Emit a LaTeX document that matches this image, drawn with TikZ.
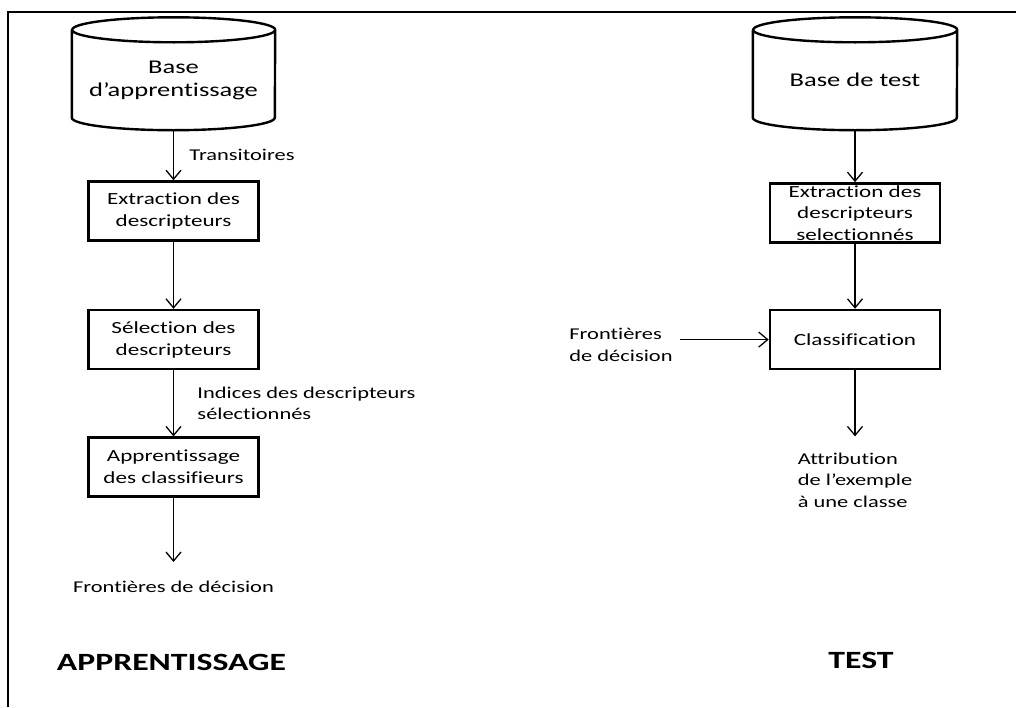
\documentclass[tikz,border=0pt]{standalone}
\usepackage{fontspec}
\setmainfont{Carlito}[FakeStretch=1.36, Ligatures=NoCommon]
\usepackage{tikz}
\usetikzlibrary{positioning, arrows.meta}

\tikzset{
    process/.style={rectangle, draw, line width=2.6pt, minimum width=170pt, minimum height=59pt, align=center, font=\fontsize{17}{22}\selectfont},
    database/.style={rectangle, minimum width=#1, minimum height=100pt, align=center, font=\fontsize{19.5}{23}\selectfont},
    note/.style={align=left, font=\fontsize{16.5}{21.5}\selectfont},
    phase/.style={font=\fontsize{24.8}{28}\selectfont\bfseries},
    arr/.style={-{Straight Barb[length=9pt, width=15pt]}, line width=1.3pt}
}

% cylinder outline round a database node: name, half width
\newcommand{\drawbase}[2]{%
    \draw[line width=2.4pt] (#1.north west) -- ([yshift=12.5pt]#1.south west)
        arc[start angle=180, end angle=360, x radius=#2, y radius=12.5pt]
        -- (#1.north east)
        arc[start angle=0, end angle=360, x radius=#2, y radius=12.5pt];}

\begin{document}
\begin{tikzpicture}[x=1pt, y=1pt]
    \useasboundingbox (0,0) rectangle (1016,-707);
    % frame
    \draw[line width=1.5pt] (8,-707) -- (8,-12) -- (1016,-12);

    % Apprentissage column
    \node[database=203pt] (baseA) at (173.5,-80) {Base\\d’apprentissage};
    \drawbase{baseA}{101.5pt}
    \node[process, below=50pt of baseA] (extrA) {Extraction des\\descripteurs};
    \node[process, below=67pt of extrA] (selA) {Sélection des\\descripteurs};
    \node[process, below=66pt of selA] (apprA) {Apprentissage\\des classifieurs};
    \coordinate[below=64pt of apprA] (tipA);
    \node[note, below=15pt of tipA] (frontA) {Frontières de décision};

    \draw[arr] (baseA) -- node[note, right=12pt] {Transitoires} (extrA);
    \draw[arr] (extrA) -- (selA);
    \draw[arr] (selA) -- node[note, right=20pt] {Indices des descripteurs\\sélectionnés} (apprA);
    \draw[arr] (apprA) -- (tipA);

    % Test column
    \node[database=204pt] (baseT) at (855,-80) {Base de test};
    \drawbase{baseT}{102pt}
    \node[process, below=52pt of baseT,
        label={[align=center, font=\fontsize{17}{21.5}\selectfont]center:Extraction des\\descripteurs\\selectionnés}] (extrT) {};
    \node[process, below=65pt of extrT] (classT) {Classification};
    \coordinate[below=66pt of classT] (tipT);
    \node[note, below=13pt of tipT] (attrT) {Attribution\\de l’exemple\\à une classe};
    \node[note] (frontT) at (621,-345) {Frontières\\de décision};

    \draw[arr] (baseT) -- (extrT);
    \draw[arr] (extrT) -- (classT);
    \draw[arr] ([xshift=4pt]frontT.east |- classT.west) -- (classT.west);
    \draw[arr] (classT) -- (tipT);

    % phase titles
    \node[phase] (titleA) at (171.5,-662) {APPRENTISSAGE};
    \node[phase] (titleT) at (861,-660) {TEST};
\end{tikzpicture}
\end{document}
